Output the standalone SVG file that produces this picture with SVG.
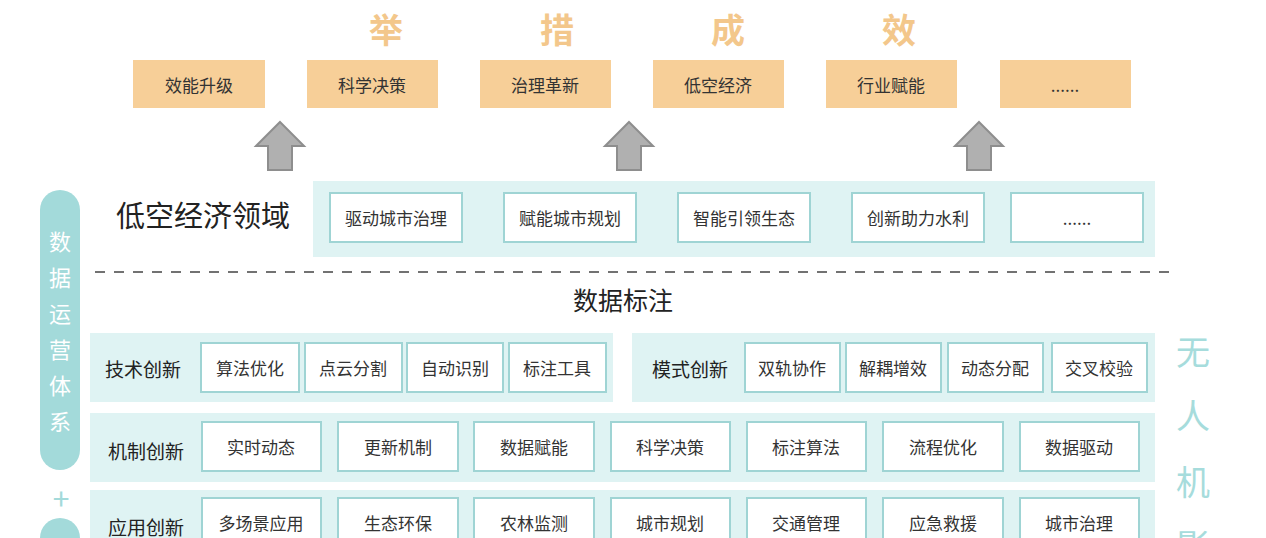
<svg xmlns="http://www.w3.org/2000/svg" width="1266" height="538" viewBox="0 0 1266 538">
<style>
text{font-family:"Noto Sans CJK SC","Noto Sans",sans-serif;text-anchor:middle;dominant-baseline:central}
.o{fill:#f7cf98}
.ot{font-size:17px;fill:#333}
.tt{font-size:34px;fill:#f3c78b;font-weight:bold}
.p{fill:#dff3f3}
.b{fill:#fff;stroke:#9fd4d4;stroke-width:2}
.bt{font-size:17px;fill:#333}
.lb{font-size:19px;fill:#222}
.v{font-size:22px;fill:#fff}
.r{font-size:34px;fill:#a6dcdc}
.ar{fill:#b0b0b0;stroke:#8e8e8e;stroke-width:2}
</style>
<rect width="1266" height="538" fill="#fff"/>
<g id="title">
<text class="tt" x="386" y="28">举</text><text class="tt" x="557" y="28">措</text><text class="tt" x="728" y="28">成</text><text class="tt" x="899" y="28">效</text>
</g>
<g id="results">
<rect class="o" x="133" y="60" width="132" height="48"/><text class="ot" x="199" y="84">效能升级</text>
<rect class="o" x="307" y="60" width="131" height="48"/><text class="ot" x="372" y="84">科学决策</text>
<rect class="o" x="480" y="60" width="131" height="48"/><text class="ot" x="545" y="84">治理革新</text>
<rect class="o" x="653" y="60" width="131" height="48"/><text class="ot" x="718" y="84">低空经济</text>
<rect class="o" x="826" y="60" width="131" height="48"/><text class="ot" x="891" y="84">行业赋能</text>
<rect class="o" x="1000" y="60" width="131" height="48"/><text class="ot" x="1065" y="84">......</text>
</g>
<g id="connectors">
<path class="ar" d="M280 122 L304 146 L292 146 L292 170 L268 170 L268 146 L256 146 Z"/>
<path class="ar" d="M629 122 L653 146 L641 146 L641 170 L617 170 L617 146 L605 146 Z"/>
<path class="ar" d="M979 122 L1003 146 L991 146 L991 170 L967 170 L967 146 L955 146 Z"/>
<line x1="95" y1="272" x2="1175" y2="272" stroke="#444" stroke-width="1.5" stroke-dasharray="10,9"/>
</g>
<g id="ops">
<rect x="40" y="190" width="40" height="280" rx="20" fill="#a3dada"/>
<text class="v" x="60" y="240">数</text><text class="v" x="60" y="276">据</text><text class="v" x="60" y="312">运</text><text class="v" x="60" y="348">营</text><text class="v" x="60" y="384">体</text><text class="v" x="60" y="420">系</text>
<text x="61" y="497" font-size="30" fill="#a3dada">+</text>
<circle cx="60" cy="538" r="20" fill="#a3dada"/>
</g>
<g id="domain">
<text x="203" y="214" font-size="29" fill="#222">低空经济领域</text>
<rect class="p" x="313" y="181" width="842" height="76"/>
<rect class="b" x="330" y="193" width="132" height="49"/><text class="bt" x="396" y="217">驱动城市治理</text>
<rect class="b" x="504" y="193" width="132" height="49"/><text class="bt" x="570" y="217">赋能城市规划</text>
<rect class="b" x="678" y="193" width="132" height="49"/><text class="bt" x="744" y="217">智能引领生态</text>
<rect class="b" x="852" y="193" width="132" height="49"/><text class="bt" x="918" y="217">创新助力水利</text>
<rect class="b" x="1011" y="193" width="132" height="49"/><text class="bt" x="1077" y="217">......</text>
</g>
<text x="623" y="299" font-size="25" fill="#222">数据标注</text>
<g id="tech">
<rect class="p" x="90" y="333" width="523" height="69"/>
<text class="lb" x="143" y="368">技术创新</text>
<rect class="b" x="201" y="343" width="98" height="49"/><text class="bt" x="250" y="367">算法优化</text>
<rect class="b" x="305" y="343" width="97" height="49"/><text class="bt" x="353" y="367">点云分割</text>
<rect class="b" x="407" y="343" width="96" height="49"/><text class="bt" x="455" y="367">自动识别</text>
<rect class="b" x="509" y="343" width="97" height="49"/><text class="bt" x="557" y="367">标注工具</text>
</g>
<g id="mode">
<rect class="p" x="632" y="333" width="523" height="69"/>
<text class="lb" x="690" y="368">模式创新</text>
<rect class="b" x="745" y="343" width="95" height="49"/><text class="bt" x="792" y="367">双轨协作</text>
<rect class="b" x="846" y="343" width="95" height="49"/><text class="bt" x="893" y="367">解耦增效</text>
<rect class="b" x="948" y="343" width="95" height="49"/><text class="bt" x="995" y="367">动态分配</text>
<rect class="b" x="1052" y="343" width="95" height="49"/><text class="bt" x="1099" y="367">交叉校验</text>
</g>
<g id="mech">
<rect class="p" x="90" y="413" width="1065" height="69"/>
<text class="lb" x="146" y="450">机制创新</text>
<rect class="b" x="202" y="422" width="119" height="49"/><text class="bt" x="261" y="446">实时动态</text>
<rect class="b" x="338" y="422" width="120" height="49"/><text class="bt" x="398" y="446">更新机制</text>
<rect class="b" x="474" y="422" width="120" height="49"/><text class="bt" x="534" y="446">数据赋能</text>
<rect class="b" x="611" y="422" width="119" height="49"/><text class="bt" x="670" y="446">科学决策</text>
<rect class="b" x="747" y="422" width="119" height="49"/><text class="bt" x="806" y="446">标注算法</text>
<rect class="b" x="883" y="422" width="120" height="49"/><text class="bt" x="943" y="446">流程优化</text>
<rect class="b" x="1020" y="422" width="119" height="49"/><text class="bt" x="1079" y="446">数据驱动</text>
</g>
<g id="app">
<rect class="p" x="90" y="490" width="1065" height="60"/>
<text class="lb" x="146" y="526">应用创新</text>
<rect class="b" x="202" y="498" width="119" height="49"/><text class="bt" x="261" y="522">多场景应用</text>
<rect class="b" x="338" y="498" width="120" height="49"/><text class="bt" x="398" y="522">生态环保</text>
<rect class="b" x="474" y="498" width="120" height="49"/><text class="bt" x="534" y="522">农林监测</text>
<rect class="b" x="611" y="498" width="119" height="49"/><text class="bt" x="670" y="522">城市规划</text>
<rect class="b" x="747" y="498" width="119" height="49"/><text class="bt" x="806" y="522">交通管理</text>
<rect class="b" x="883" y="498" width="120" height="49"/><text class="bt" x="943" y="522">应急救援</text>
<rect class="b" x="1020" y="498" width="119" height="49"/><text class="bt" x="1079" y="522">城市治理</text>
</g>
<g id="uav">
<text class="r" x="1193" y="350">无</text><text class="r" x="1193" y="414">人</text><text class="r" x="1193" y="480">机</text><text class="r" x="1193" y="544">影</text>
</g>
</svg>
